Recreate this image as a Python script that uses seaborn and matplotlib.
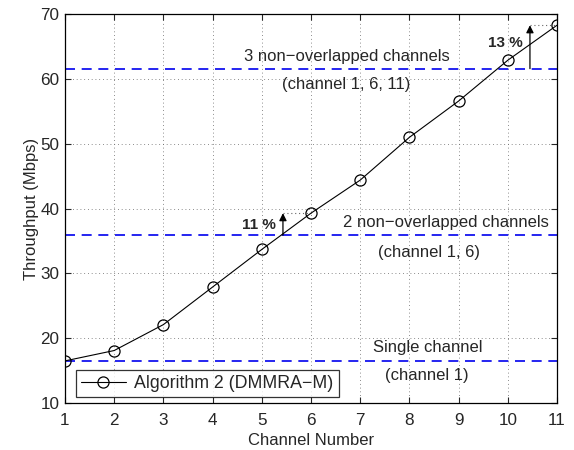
import matplotlib
matplotlib.use("Agg")
import matplotlib.pyplot as plt
import seaborn as sns
import pandas as pd

channels = [1, 2, 3, 4, 5, 6, 7, 8, 9, 10, 11]
throughput = [16.5, 18.1, 22.1, 27.9, 33.7, 39.3, 44.4, 51.0, 56.6, 62.9, 68.3]
ref_levels = [16.5, 35.9, 61.6]
ref_labels = ["Single channel", "2 non\u2212overlapped channels", "3 non\u2212overlapped channels"]
ref_sub = ["(channel 1)", "(channel 1, 6)", "(channel 1, 6, 11)"]
gain_labels = ["11 %", "13 %"]
series_name = "Algorithm 2 (DMMRA\u2212M)"

sns.set_style("white")
plt.rcParams['font.family'] = ['Liberation Sans', 'DejaVu Sans']

df = pd.DataFrame({"Channel Number": channels, "Throughput (Mbps)": throughput})

fig = plt.figure(figsize=(5.74, 4.5), dpi=100)
ax = fig.add_axes([0.1132, 0.1044, 0.8572, 0.864])

for lv in ref_levels:
    ax.axhline(lv, color="#0000ee", linestyle=(0, (6, 4)), linewidth=1.2, zorder=2)

sns.lineplot(data=df, x="Channel Number", y="Throughput (Mbps)", ax=ax,
             color="black", linewidth=0.8, marker="o", markersize=8,
             markerfacecolor="none", markeredgecolor="black", markeredgewidth=0.9,
             label=series_name, zorder=3)

fs = 12
# annotations
ax.text(8.38, 18.6, ref_labels[0], ha="center", va="center", fontsize=fs)
ax.text(8.35, 14.3, ref_sub[0], ha="center", va="center", fontsize=fs)
ax.text(8.74, 37.9, ref_labels[1], ha="center", va="center", fontsize=fs)
ax.text(8.40, 33.3, ref_sub[1], ha="center", va="center", fontsize=fs)
ax.text(6.72, 63.4, ref_labels[2], ha="center", va="center", fontsize=fs)
ax.text(6.71, 59.1, ref_sub[2], ha="center", va="center", fontsize=fs)

# gain arrows
ax.annotate("", xy=(5.43, throughput[5]), xytext=(5.43, ref_levels[1]),
            arrowprops=dict(arrowstyle="-|>", color="black", lw=0.9, mutation_scale=11, shrinkA=0, shrinkB=0))
ax.plot([5.43, 6], [throughput[5], throughput[5]], color="#666666", linestyle=(0, (1, 2.5)), lw=0.8)
ax.text(4.95, 37.5, gain_labels[0], ha="center", va="center", fontsize=11, fontweight="bold")

ax.annotate("", xy=(10.45, throughput[10]), xytext=(10.45, ref_levels[2]),
            arrowprops=dict(arrowstyle="-|>", color="black", lw=0.9, mutation_scale=11, shrinkA=0, shrinkB=0))
ax.plot([10.45, 11], [throughput[10], throughput[10]], color="#666666", linestyle=(0, (1, 2.5)), lw=0.8)
ax.text(9.96, 65.5, gain_labels[1], ha="center", va="center", fontsize=11, fontweight="bold")

ax.set_xlim(1, 11)
ax.set_ylim(10, 70)
ax.set_xticks(channels)
ax.set_yticks(range(10, 71, 10))
ax.grid(True, color="#666666", linestyle=(0, (1, 3.5)), linewidth=0.6)
ax.tick_params(direction="in", length=4, labelsize=12.3, top=True, right=True,
               bottom=True, left=True, pad=4)
ax.tick_params(axis="x", pad=7)
for s in ax.spines.values():
    s.set_color("black")
    s.set_linewidth(0.9)
ax.set_xlabel("Channel Number", fontsize=12, labelpad=4)
ax.set_ylabel("Throughput (Mbps)", fontsize=12, labelpad=1)

leg = ax.legend(loc="lower left", fontsize=12.8, frameon=True, fancybox=False,
                edgecolor="black", bbox_to_anchor=(0.022, 0.015), borderaxespad=0,
                handlelength=2.5, borderpad=0.3, handletextpad=0.5)
leg.get_frame().set_linewidth(0.9)

fig.savefig("out.png", dpi=100)
